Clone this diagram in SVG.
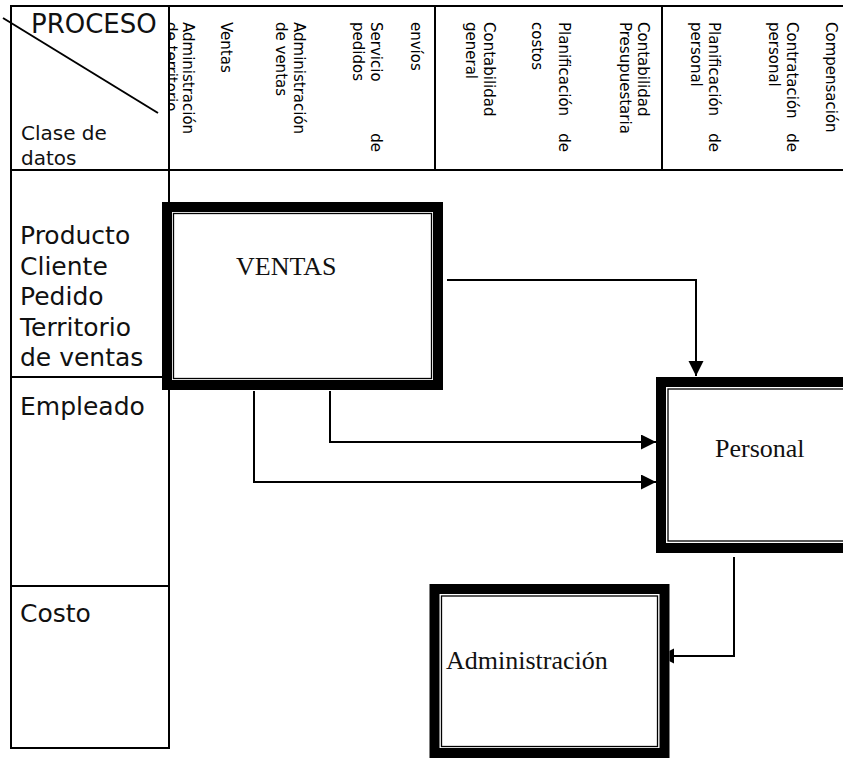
<svg xmlns="http://www.w3.org/2000/svg" width="843" height="758" viewBox="0 0 843 758">
<style>
  .grid { stroke: #000; stroke-width: 2; fill: none; }
  .hdr { font-family: "DejaVu Sans", Verdana, sans-serif; font-size: 15px; fill: #000; }
  .lbl { font-family: "DejaVu Sans", Verdana, sans-serif; font-size: 25px; fill: #111; }
  .small { font-family: "DejaVu Sans", Verdana, sans-serif; font-size: 20px; fill: #111; }
  .band { fill: none; stroke: #000; stroke-width: 10; }
  .thin { fill: none; stroke: #000; stroke-width: 1.3; }
  .inner { fill: #fff; }
  .ntext { font-family: "Liberation Serif", "Times New Roman", serif; font-size: 26px; fill: #111; }
  .conn { fill: none; stroke: #000; stroke-width: 2; }
</style>
<defs>
  <marker id="arrow" markerUnits="userSpaceOnUse" markerWidth="16" markerHeight="16" refX="15" refY="7.5" orient="auto">
    <path d="M0,0 L15,7.5 L0,15 Z" fill="#000"/>
  </marker>
  <clipPath id="clipCol1" clipPathUnits="userSpaceOnUse">
    <rect x="170" y="6" width="265" height="164"/>
  </clipPath>
</defs>
<rect x="0" y="0" width="843" height="758" fill="#fff"/>

<g id="table">
  <line class="grid" x1="11" y1="6" x2="843" y2="6"/>
  <line class="grid" x1="11" y1="170" x2="843" y2="170"/>
  <line class="grid" x1="11" y1="5" x2="11" y2="749"/>
  <line class="grid" x1="169" y1="5" x2="169" y2="749"/>
  <line class="grid" x1="435" y1="5" x2="435" y2="171"/>
  <line class="grid" x1="662" y1="5" x2="662" y2="171"/>
  <line class="grid" x1="11" y1="377" x2="169" y2="377"/>
  <line class="grid" x1="11" y1="586" x2="169" y2="586"/>
  <line class="grid" x1="11" y1="748" x2="169" y2="748"/>
  <line x1="3" y1="18" x2="158" y2="113" stroke="#000" stroke-width="2"/>
  <text class="lbl" x="31" y="33" style="font-size:26px">PROCESO</text>
  <text class="small" x="21" y="140">Clase de</text>
  <text class="small" x="21" y="165">datos</text>

  <text class="hdr" transform="translate(182.5,0) rotate(90)" x="22">Administración</text>
  <g clip-path="url(#clipCol1)">
    <text class="hdr" transform="translate(165.5,0) rotate(90)" x="22">de territorio</text>
  </g>
  <text class="hdr" transform="translate(220.5,0) rotate(90)" x="22">Ventas</text>
  <text class="hdr" transform="translate(293.5,0) rotate(90)" x="22">Administración</text>
  <text class="hdr" transform="translate(275.5,0) rotate(90)" x="22">de ventas</text>
  <text class="hdr" transform="translate(370.5,0) rotate(90)" x="22">Servicio</text>
  <text class="hdr" transform="translate(370.5,0) rotate(90)" x="152" text-anchor="end">de</text>
  <text class="hdr" transform="translate(352.5,0) rotate(90)" x="22">pedidos</text>
  <text class="hdr" transform="translate(410.5,0) rotate(90)" x="22">envíos</text>
  <text class="hdr" transform="translate(483.5,0) rotate(90)" x="22">Contabilidad</text>
  <text class="hdr" transform="translate(465.5,0) rotate(90)" x="22">general</text>
  <text class="hdr" transform="translate(558.5,0) rotate(90)" x="22">Planificación</text>
  <text class="hdr" transform="translate(558.5,0) rotate(90)" x="152" text-anchor="end">de</text>
  <text class="hdr" transform="translate(531.5,0) rotate(90)" x="22">costos</text>
  <text class="hdr" transform="translate(637.5,0) rotate(90)" x="22">Contabilidad</text>
  <text class="hdr" transform="translate(619.5,0) rotate(90)" x="22">Presupuestaria</text>
  <text class="hdr" transform="translate(709,0) rotate(90)" x="22">Planificación</text>
  <text class="hdr" transform="translate(709,0) rotate(90)" x="152" text-anchor="end">de</text>
  <text class="hdr" transform="translate(691,0) rotate(90)" x="22">personal</text>
  <text class="hdr" transform="translate(787,0) rotate(90)" x="22">Contratación</text>
  <text class="hdr" transform="translate(787,0) rotate(90)" x="152" text-anchor="end">de</text>
  <text class="hdr" transform="translate(769,0) rotate(90)" x="22">personal</text>
  <text class="hdr" transform="translate(825.5,0) rotate(90)" x="22">Compensación</text>

  <text class="lbl" x="20" y="244">Producto</text>
  <text class="lbl" x="20" y="274.5">Cliente</text>
  <text class="lbl" x="20" y="305">Pedido</text>
  <text class="lbl" x="20" y="335.5">Territorio</text>
  <text class="lbl" x="20" y="366">de ventas</text>
  <text class="lbl" x="20" y="415">Empleado</text>
  <text class="lbl" x="20" y="622">Costo</text>
</g>

<g id="connectors">
  <path class="conn" d="M447,280 H696 V376" marker-end="url(#arrow)"/>
  <path class="conn" d="M330,391 V442 H656" marker-end="url(#arrow)"/>
  <path class="conn" d="M254,391 V482 H656" marker-end="url(#arrow)"/>
  <path class="conn" d="M734,557 V656 H659" marker-end="url(#arrow)"/>
</g>

<g id="ventas">
  <rect class="inner" x="162" y="202" width="281" height="188"/>
  <rect class="band" x="167" y="207" width="271" height="178"/>
  <rect class="thin" x="173.5" y="213.5" width="258" height="165"/>
  <text class="ntext" x="236" y="275">VENTAS</text>
</g>

<g id="personal">
  <rect class="inner" x="656" y="377" width="200" height="176"/>
  <rect class="band" x="661" y="382" width="190" height="166"/>
  <rect class="thin" x="668" y="389" width="200" height="152"/>
  <text class="ntext" x="715" y="457">Personal</text>
</g>

<g id="administracion">
  <rect class="inner" x="429.5" y="584" width="240" height="174"/>
  <rect class="band" x="434.5" y="589" width="230" height="164"/>
  <rect class="thin" x="441.5" y="596" width="216" height="150.5"/>
  <text class="ntext" x="446" y="669">Administración</text>
</g>
</svg>
